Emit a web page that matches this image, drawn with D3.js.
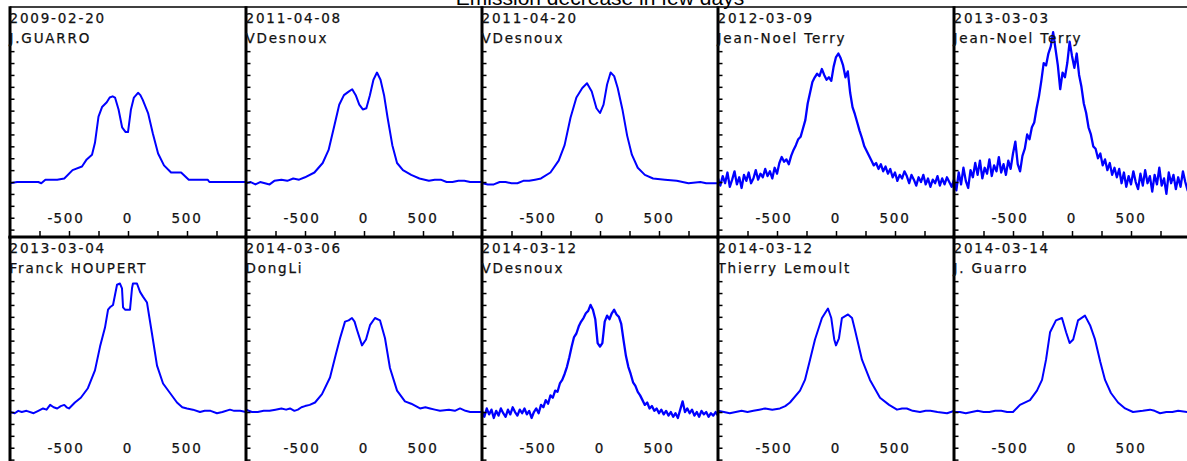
<!DOCTYPE html>
<html>
<head>
<meta charset="utf-8">
<script src="https://cdn.jsdelivr.net/npm/d3@7"></script>
<style>
  body { margin: 0; overflow: hidden; background: #fff; }
  svg { display: block; }
</style>
</head>
<body>
<svg id="chart" width="1200" height="470"></svg>
<script>
// Emission line profiles, velocity (km/s) vs relative intensity
const title = 'Emission decrease in few days';

const dates = ['2009-02-20', '2011-04-08', '2011-04-20', '2012-03-09', '2013-03-03',
               '2013-03-04', '2014-03-06', '2014-03-12', '2014-03-12', '2014-03-14'];
const observers = ['J.GUARRO', 'VDesnoux', 'VDesnoux', 'Jean-Noel Terry', 'Jean-Noel Terry',
                   'Franck HOUPERT', 'DongLi', 'VDesnoux', 'Thierry Lemoult', 'J. Guarro'];

const xTicks = [-750, -500, -250, 0, 250, 500, 750];
const xLabels = [-500, 0, 500];
const yTicks = [0.6, 0.7, 0.8, 0.9, 1.0, 1.1, 1.2, 1.3, 1.4, 1.5, 1.6, 1.7, 1.8, 1.9, 2.0, 2.1];

// smooth spectra: [velocity, intensity]
const spec2009_02_20 = [[-1000,0.99],[-940,1.00],[-760,1.00],[-735,0.99],[-700,1.02],[-600,1.02],[-540,1.03],
  [-470,1.10],[-390,1.13],[-350,1.19],[-305,1.23],[-280,1.33],[-250,1.55],[-220,1.63],[-180,1.67],[-155,1.71],
  [-130,1.72],[-110,1.71],[-80,1.61],[-50,1.46],[-20,1.42],[0,1.42],[25,1.61],[50,1.71],[85,1.75],[105,1.73],
  [125,1.69],[170,1.58],[210,1.41],[255,1.24],[305,1.14],[365,1.08],[450,1.08],[515,1.02],[675,1.02],[690,1.00],
  [1000,1.00]];

const spec2011_04_08 = [[-1000,0.99],[-960,1.00],[-920,0.98],[-880,1.00],[-840,0.99],[-800,0.98],[-760,1.01],
  [-700,1.02],[-650,1.01],[-600,1.03],[-550,1.02],[-500,1.04],[-420,1.08],[-350,1.16],[-300,1.27],[-250,1.48],
  [-210,1.65],[-170,1.73],[-130,1.76],[-100,1.78],[-70,1.73],[-40,1.65],[-10,1.61],[20,1.62],[50,1.73],[80,1.86],
  [110,1.92],[140,1.86],[170,1.73],[200,1.54],[240,1.31],[280,1.16],[330,1.10],[400,1.06],[470,1.03],[550,1.01],
  [600,1.02],[650,1.02],[700,1.00],[750,1.00],[800,1.01],[850,1.01],[900,1.00],[1000,1.00]];

const spec2011_04_20 = [[-1000,0.99],[-950,0.98],[-900,0.98],[-850,1.00],[-800,1.00],[-750,0.99],[-700,0.99],
  [-650,1.01],[-600,1.01],[-550,1.02],[-500,1.03],[-420,1.08],[-350,1.18],[-300,1.31],[-250,1.54],[-200,1.71],
  [-150,1.79],[-110,1.83],[-70,1.76],[-30,1.62],[0,1.58],[30,1.65],[60,1.82],[90,1.92],[120,1.89],[150,1.79],
  [190,1.61],[230,1.39],[270,1.23],[320,1.12],[380,1.06],[450,1.03],[550,1.02],[650,1.01],[700,1.00],[750,0.99],
  [850,1.00],[900,0.99],[1000,0.99]];

const spec2013_03_04 = [[-1000,1.00],[-960,0.99],[-930,1.01],[-900,1.00],[-860,1.01],[-800,0.99],[-760,1.01],
  [-720,1.03],[-690,1.02],[-660,1.06],[-630,1.04],[-600,1.03],[-570,1.05],[-540,1.06],[-520,1.04],[-500,1.03],
  [-450,1.08],[-400,1.12],[-340,1.20],[-280,1.35],[-237,1.55],[-195,1.71],[-169,1.86],[-153,1.88],[-127,1.90],
  [-93,2.07],[-68,2.08],[-51,2.04],[-42,1.88],[-25,1.86],[17,1.86],[34,2.04],[42,2.08],[76,2.08],[102,2.01],
  [127,1.97],[161,1.92],[203,1.66],[246,1.39],[297,1.24],[356,1.16],[415,1.08],[460,1.04],[500,1.03],[550,1.02],
  [610,1.00],[650,1.01],[700,1.01],[754,0.99],[800,1.00],[864,1.02],[900,1.01],[950,1.01],[1000,1.00]];

const spec2014_03_06 = [[-1000,1.02],[-950,1.00],[-900,1.00],[-850,1.01],[-800,1.01],[-750,1.02],[-700,1.03],
  [-660,1.02],[-627,1.03],[-590,1.01],[-560,1.02],[-530,1.04],[-500,1.05],[-460,1.06],[-415,1.08],[-356,1.15],
  [-288,1.29],[-240,1.48],[-203,1.62],[-161,1.76],[-130,1.77],[-102,1.79],[-80,1.76],[-59,1.69],[-17,1.56],
  [17,1.61],[51,1.73],[93,1.79],[136,1.77],[178,1.62],[220,1.37],[280,1.18],[347,1.09],[400,1.07],[475,1.03],
  [520,1.04],[560,1.03],[600,1.02],[644,1.01],[720,1.02],[770,1.01],[814,1.03],[860,1.01],[900,1.00],[1000,1.00]];

const spec2014_03_12b = [[-1000,1.01],[-950,1.00],[-900,0.99],[-850,1.00],[-800,1.01],[-750,1.00],[-700,1.01],
  [-650,1.02],[-600,1.03],[-540,1.02],[-475,1.03],[-430,1.05],[-390,1.08],[-305,1.18],[-263,1.27],[-220,1.44],
  [-178,1.61],[-119,1.79],[-68,1.87],[-40,1.79],[-15,1.61],[0,1.56],[25,1.62],[50,1.79],[102,1.82],[136,1.79],
  [161,1.69],[220,1.44],[288,1.27],[373,1.12],[450,1.06],[517,1.02],[560,1.03],[600,1.03],[650,1.01],[712,1.00],
  [760,1.01],[800,1.01],[860,1.00],[941,0.99],[1000,1.01]];

const spec2014_03_14 = [[-1000,1.00],[-950,1.00],[-900,0.99],[-850,1.00],[-800,1.01],[-750,1.00],[-700,1.00],
  [-650,1.01],[-600,1.01],[-550,1.00],[-500,1.00],[-441,1.06],[-356,1.10],[-297,1.18],[-254,1.27],[-220,1.44],
  [-186,1.67],[-136,1.77],[-85,1.79],[-50,1.67],[-20,1.58],[10,1.61],[51,1.77],[110,1.81],[153,1.73],[195,1.61],
  [240,1.42],[280,1.27],[330,1.16],[390,1.08],[450,1.03],[517,1.00],[600,1.01],[661,1.02],[700,1.01],[746,0.99],
  [800,1.00],[850,1.00],[900,1.01],[975,1.00],[1000,1.00]];

// noisy spectra sampled on a 20 km/s grid
const velGrid = [-1000,-980,-960,-940,-920,-900,-880,-860,-840,-820,
  -800,-780,-760,-740,-720,-700,-680,-660,-640,-620,
  -600,-580,-560,-540,-520,-500,-480,-460,-440,-420,
  -400,-380,-360,-340,-320,-300,-280,-260,-240,-220,
  -200,-180,-160,-140,-120,-100,-80,-60,-40,-20,
  0,20,40,60,80,100,120,140,160,180,
  200,220,240,260,280,300,320,340,360,380,
  400,420,440,460,480,500,520,540,560,580,
  600,620,640,660,680,700,720,740,760,780,
  800,820,840,860,880,900,920,940,960,980,
  1000];

const int2012_03_09 = [1.03,0.97,1.05,0.99,1.08,0.96,1.02,1.09,0.98,1.04,
  0.95,1.06,1.01,1.08,0.99,1.03,1.10,1.02,1.07,1.04,
  1.11,1.05,1.09,1.03,1.12,1.07,1.16,1.21,1.17,1.19,
  1.15,1.22,1.27,1.31,1.36,1.38,1.45,1.52,1.66,1.75,
  1.84,1.88,1.91,1.89,1.95,1.90,1.86,1.88,1.85,1.97,
  2.05,2.08,2.04,1.98,1.88,1.93,1.75,1.63,1.57,1.50,
  1.43,1.37,1.30,1.26,1.22,1.18,1.14,1.16,1.11,1.15,
  1.09,1.13,1.07,1.11,1.04,1.08,1.01,1.06,1.03,1.09,
  1.05,0.99,1.06,1.02,0.97,1.04,1.00,1.06,0.98,1.03,
  0.96,1.02,0.99,1.05,0.97,1.03,0.98,1.04,1.00,0.96,
  1.02];

const int2013_03_03 = [1.02,0.93,1.08,0.98,1.12,1.01,0.95,1.10,1.04,1.16,
  1.06,1.18,1.03,1.12,1.07,1.19,1.05,1.14,1.09,1.21,
  1.08,1.15,1.06,1.18,1.11,1.24,1.34,1.15,1.09,1.22,
  1.28,1.40,1.36,1.46,1.50,1.62,1.72,1.85,2.00,1.98,
  2.08,2.14,2.26,2.12,1.98,1.78,1.92,1.88,2.00,2.18,
  2.06,1.96,2.08,1.90,1.80,1.66,1.58,1.46,1.40,1.30,
  1.28,1.20,1.24,1.14,1.19,1.10,1.16,1.06,1.12,1.04,
  1.11,0.99,1.08,0.96,1.05,0.98,1.09,1.00,0.94,1.07,
  0.97,1.10,0.99,1.05,0.92,1.06,0.98,1.12,0.97,1.03,
  0.90,1.08,0.99,1.06,0.94,1.04,0.96,1.09,1.00,0.93,
  1.02];

const int2014_03_12a = [1.01,0.96,1.03,0.98,1.02,0.95,1.01,0.97,1.03,0.99,
  0.96,1.02,0.98,1.04,1.00,0.97,1.02,0.99,1.03,0.98,
  1.01,0.95,1.00,1.03,0.99,1.06,1.04,1.10,1.07,1.14,
  1.12,1.18,1.17,1.24,1.27,1.32,1.38,1.46,1.55,1.63,
  1.66,1.72,1.76,1.79,1.83,1.85,1.90,1.86,1.78,1.58,
  1.55,1.58,1.76,1.81,1.78,1.83,1.86,1.82,1.80,1.74,
  1.60,1.47,1.38,1.32,1.25,1.22,1.17,1.14,1.10,1.06,
  1.08,1.03,1.05,1.01,1.03,0.99,1.02,0.98,1.01,0.97,
  1.00,0.96,0.99,0.95,1.02,1.09,1.00,1.03,0.99,1.02,
  0.97,1.00,0.96,1.01,0.98,1.00,0.96,0.99,0.97,1.00,
  0.97];

const onGrid = arr => velGrid.map((v, i) => [v, arr[i]]);

const spectra = [
  spec2009_02_20, spec2011_04_08, spec2011_04_20, onGrid(int2012_03_09), onGrid(int2013_03_03),
  spec2013_03_04, spec2014_03_06, onGrid(int2014_03_12a), spec2014_03_12b, spec2014_03_14
];
const noisy = [false, false, false, true, true, false, false, true, false, false];

const colW = 236, rowH = 230, left0 = 10, top0 = 7;
const labelFont = '13.5px "DejaVu Sans", Verdana, sans-serif';

const svg = d3.select('#chart');

svg.append('text')
  .attr('x', 600)
  .attr('y', 4.5)
  .attr('text-anchor', 'middle')
  .style('font', '21px "Liberation Sans", Arial, sans-serif')
  .attr('fill', '#000')
  .text(title);

const panels = spectra.map((spec, i) => {
  const col = i % 5, row = Math.floor(i / 5);
  const L = left0 + col * colW, T = top0 + row * rowH;
  const x = d3.scaleLinear().domain([-1000, 1000]).range([L, L + colW]);
  const y = d3.scaleLinear().domain([0.538, 2.471]).range([T + rowH, T]);
  return { spec, i, row, L, T, x, y };
});

// lines first
panels.forEach(p => {
  svg.append('clipPath').attr('id', 'clip' + p.i)
    .append('rect')
    .attr('x', p.L).attr('y', p.T)
    .attr('width', colW).attr('height', rowH);

  const line = d3.line()
    .x(d => p.x(d[0]))
    .y(d => p.y(d[1]));

  svg.append('path')
    .datum(p.spec)
    .attr('clip-path', `url(#clip${p.i})`)
    .attr('d', line)
    .attr('fill', 'none')
    .attr('stroke', '#0000ff')
    .attr('stroke-linejoin', 'round')
    .attr('stroke-width', noisy[p.i] ? 2.3 : 2);
});

// axes, frames and texts
panels.forEach(p => {
  const g = svg.append('g');

  if (p.row === 0) {
    g.append('line')
      .attr('x1', p.L).attr('x2', p.L + colW)
      .attr('y1', p.T).attr('y2', p.T)
      .attr('stroke', '#000').attr('stroke-width', 1.5);
  }

  const yAxis = g.append('g')
    .attr('transform', `translate(${p.L},0)`)
    .call(d3.axisRight(p.y).tickValues(yTicks).tickSize(4.5).tickFormat(''));
  yAxis.select('.domain').remove();
  yAxis.selectAll('line').attr('stroke', '#000').attr('stroke-width', 1.5);

  const xAxis = g.append('g')
    .attr('transform', `translate(0,${p.T + rowH})`)
    .call(d3.axisTop(p.x).tickValues(xTicks).tickSize(6).tickFormat(''));
  xAxis.select('.domain').remove();
  xAxis.selectAll('line').attr('stroke', '#000').attr('stroke-width', 1.5);

  g.append('line')
    .attr('x1', p.L).attr('x2', p.L)
    .attr('y1', p.T - 0.75).attr('y2', p.T + rowH + 1.5)
    .attr('stroke', '#000').attr('stroke-width', 3);

  g.append('line')
    .attr('x1', p.L - 1.5).attr('x2', p.L + colW)
    .attr('y1', p.T + rowH).attr('y2', p.T + rowH)
    .attr('stroke', '#000').attr('stroke-width', 3);

  const styleText = sel => sel
    .style('font', labelFont)
    .style('letter-spacing', '1.8px')
    .attr('fill', '#111')
    .attr('stroke', '#111')
    .attr('stroke-width', 0.25);

  xLabels.forEach(v => {
    const t = g.append('text')
      .attr('x', p.x(v))
      .attr('y', p.T + 216)
      .attr('text-anchor', 'middle')
      .call(styleText)
      .text(Math.abs(v));
    if (v < 0) {
      const w = t.node().getComputedTextLength();
      g.append('text')
        .attr('x', p.x(v) - w / 2 - 1)
        .attr('y', p.T + 216)
        .attr('text-anchor', 'end')
        .call(styleText)
        .style('letter-spacing', '0px')
        .text('-');
    }
  });

  g.append('text')
    .attr('x', p.L - 0.5)
    .attr('y', p.T + 16)
    .call(styleText)
    .text(dates[p.i]);

  g.append('text')
    .attr('x', p.L - 0.5)
    .attr('y', p.T + 36)
    .call(styleText)
    .text(observers[p.i]);
});
</script>
</body>
</html>
